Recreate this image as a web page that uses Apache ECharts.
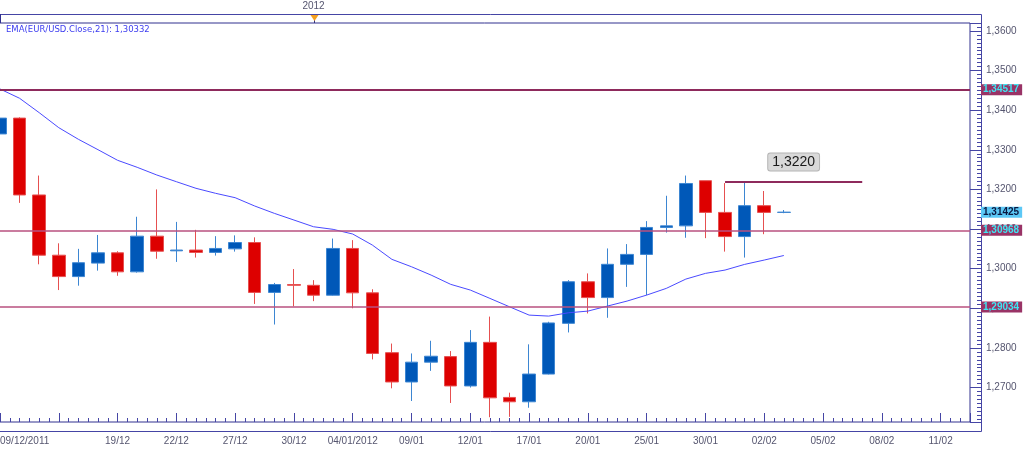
<!DOCTYPE html>
<html>
<head>
<meta charset="utf-8">
<title>EUR/USD</title>
<script src="https://cdn.jsdelivr.net/npm/echarts@6/dist/echarts.min.js"></script>
<style>
html, body { margin: 0; padding: 0; background: #fff; }
#chart { width: 1024px; height: 450px; }
</style>
</head>
<body>
<div id="chart"></div>
<script>
// trading days, then calendar days to the right edge
const dates = [
    '09/12/2011', '12/12/2011', '13/12/2011', '14/12/2011', '15/12/2011', '16/12/2011',
    '19/12/2011', '20/12/2011', '21/12/2011', '22/12/2011', '23/12/2011', '26/12/2011',
    '27/12/2011', '28/12/2011', '29/12/2011', '30/12/2011', '02/01/2012', '03/01/2012',
    '04/01/2012', '05/01/2012', '06/01/2012', '09/01/2012', '10/01/2012', '11/01/2012',
    '12/01/2012', '13/01/2012', '16/01/2012', '17/01/2012', '18/01/2012', '19/01/2012',
    '20/01/2012', '23/01/2012', '24/01/2012', '25/01/2012', '26/01/2012', '27/01/2012',
    '30/01/2012', '31/01/2012', '01/02/2012', '02/02/2012', '03/02/2012', '04/02/2012',
    '05/02/2012', '06/02/2012', '07/02/2012', '08/02/2012', '09/02/2012', '10/02/2012',
    '11/02/2012', '12/02/2012'
];

// open, close, low, high
const candles = [
    [1.3340, 1.3380, 1.3284, 1.3434],
    [1.3380, 1.3186, 1.3166, 1.3382],
    [1.3186, 1.3034, 1.3011, 1.3235],
    [1.3034, 1.2980, 1.2946, 1.3064],
    [1.2980, 1.3015, 1.2957, 1.3050],
    [1.3014, 1.3040, 1.2995, 1.3085],
    [1.3040, 1.2992, 1.2982, 1.3044],
    [1.2992, 1.3082, 1.2990, 1.3131],
    [1.3082, 1.3044, 1.3025, 1.3200],
    [1.3045, 1.3047, 1.3017, 1.3118],
    [1.3047, 1.3041, 1.3028, 1.3098],
    [1.3041, 1.3051, 1.3033, 1.3082],
    [1.3050, 1.3066, 1.3043, 1.3084],
    [1.3066, 1.2940, 1.2911, 1.3079],
    [1.2940, 1.2960, 1.2859, 1.2964],
    [1.2960, 1.2958, 1.2905, 1.2999],
    [1.2958, 1.2933, 1.2918, 1.2971],
    [1.2933, 1.3051, 1.2932, 1.3076],
    [1.3051, 1.2939, 1.2900, 1.3072],
    [1.2939, 1.2786, 1.2771, 1.2948],
    [1.2788, 1.2714, 1.2698, 1.2811],
    [1.2714, 1.2764, 1.2666, 1.2786],
    [1.2764, 1.2779, 1.2742, 1.2818],
    [1.2778, 1.2704, 1.2661, 1.2792],
    [1.2704, 1.2814, 1.2700, 1.2845],
    [1.2814, 1.2674, 1.2625, 1.2879],
    [1.2675, 1.2664, 1.2626, 1.2687],
    [1.2664, 1.2734, 1.2649, 1.2809],
    [1.2734, 1.2863, 1.2733, 1.2866],
    [1.2862, 1.2967, 1.2839, 1.2971],
    [1.2967, 1.2927, 1.2887, 1.2988],
    [1.2927, 1.3011, 1.2876, 1.3051],
    [1.3011, 1.3036, 1.2954, 1.3062],
    [1.3036, 1.3104, 1.2933, 1.3120],
    [1.3104, 1.3108, 1.3091, 1.3184],
    [1.3108, 1.3215, 1.3078, 1.3235],
    [1.3222, 1.3142, 1.3077, 1.3222],
    [1.3142, 1.3081, 1.3043, 1.3216],
    [1.3081, 1.3159, 1.3028, 1.3218],
    [1.3159, 1.3142, 1.3087, 1.3196],
    [1.3142, 1.31425, 1.3140, 1.3148]
];

// EMA(21) of close
const ema = [
    1.34535, 1.34300, 1.33937, 1.33558, 1.33265, 1.33003, 1.32735, 1.32558, 1.32364, 1.32195,
    1.32028, 1.31902, 1.31791, 1.31581, 1.31396, 1.31227, 1.31058, 1.30992, 1.30874, 1.30596,
    1.30235, 1.30048, 1.29838, 1.29604, 1.29460, 1.29250, 1.29038, 1.28828, 1.28803, 1.28886,
    1.28929, 1.29056, 1.29182, 1.29333, 1.29502, 1.29737, 1.29881, 1.29965, 1.30108, 1.30217,
    1.30332
];

const levels = [1.34517, 1.30968, 1.29034];
const lastPrice = 1.31425;
const resistance = 1.3220;
const resistanceFrom = '31/01/2012';
const resistanceTo = '07/02/2012';

const fmt = (v, d) => v.toFixed(d).replace('.', ',');
const year = d => d.slice(6);
const frameColor = '#4545a5';
const labelColor = '#55556f';

let chart = echarts.init(document.getElementById('chart'));

function tagLabel(bg, fg) {
    return {
        show: true,
        position: 'end',
        distance: 11,
        formatter: p => fmt(p.value, 5),
        backgroundColor: bg,
        color: fg,
        fontSize: 10,
        fontWeight: 'bold',
        lineHeight: 10,
        padding: [1, 3, 0, 2]
    };
}

let option = {
    animation: false,
    backgroundColor: '#ffffff',
    textStyle: { fontFamily: 'Liberation Sans' },
    title: {
        text: 'EMA(EUR/USD.Close,21): ' + fmt(ema[ema.length - 1], 5),
        left: 6,
        top: 25,
        padding: 0,
        textStyle: { fontSize: 8.5, fontFamily: 'DejaVu Sans', fontWeight: 'normal', color: '#3c3cf0' }
    },
    grid: [
        {
            left: -9.8, right: 54, top: 23, bottom: 28, outerBoundsMode: 'none',
            show: true, borderColor: '#30308f', borderWidth: 1, backgroundColor: '#fff'
        },
        { left: 0, right: 54, top: 23, bottom: 28, outerBoundsMode: 'none', show: false }
    ],
    xAxis: [
        {
            type: 'category', gridIndex: 0, data: dates, boundaryGap: true,
            position: 'bottom', offset: 9,
            axisLine: { show: false }, axisTick: { show: false }, splitLine: { show: false },
            axisLabel: {
                // every third day; the one after the first full date is crowded out
                interval: (i) => i % 3 === 0 && i !== 3,
                alignMinLabel: 'left',
                margin: 5, fontSize: 10, color: labelColor,
                formatter: function (value, index) {
                    const prev = dates[index - 3];
                    if (index === 0 || (prev && year(prev) !== year(value))) return value;
                    return value.slice(0, 5);
                }
            }
        },
        {
            // tick strip only
            type: 'value', gridIndex: 1, min: 0, max: 49.5, interval: 3,
            position: 'bottom', offset: 9,
            axisLine: { show: false },
            axisTick: { show: true, inside: true, length: 9, lineStyle: { color: frameColor } },
            minorTick: { show: true, splitNumber: 6, length: 4, lineStyle: { color: frameColor } },
            axisLabel: { show: false }, splitLine: { show: false }
        },
        {
            // year marker strip
            type: 'category', gridIndex: 0, data: dates, boundaryGap: true,
            position: 'top', offset: 9,
            axisLine: { show: false }, axisTick: { show: false }, splitLine: { show: false },
            axisLabel: {
                interval: (i) => i > 0 && year(dates[i]) !== year(dates[i - 1]),
                formatter: v => year(v),
                margin: 3, fontSize: 10, color: labelColor
            }
        }
    ],
    yAxis: [
        {
            type: 'value', gridIndex: 0, position: 'right', offset: 12,
            min: 1.2613, max: 1.3620, splitNumber: 10,
            axisLine: { show: false },
            axisTick: { show: true, inside: true, length: 12, lineStyle: { color: frameColor } },
            minorTick: { show: true, splitNumber: 10, length: 5, lineStyle: { color: frameColor } },
            splitLine: { show: false },
            axisLabel: {
                margin: 4, fontSize: 10, color: labelColor,
                formatter: function (v) {
                    if (Math.abs(v * 100 - Math.round(v * 100)) > 1e-6) return '';
                    return fmt(v, 4);
                }
            }
        },
        { type: 'value', gridIndex: 1, show: false }
    ],
    series: [
        {
            type: 'candlestick',
            xAxisIndex: 0,
            yAxisIndex: 0,
            data: candles,
            barWidth: 13,
            itemStyle: {
                color: '#0058b8',
                color0: '#dd0000',
                borderColor: '#3d86d2',
                borderColor0: '#e65050',
                borderWidth: 1
            },
            markLine: {
                symbol: ['none', 'none'],
                silent: true,
                animation: false,
                precision: 5,
                data: [
                    ...levels.map((v, k) => ({
                        yAxis: v,
                        lineStyle: { color: k === 0 ? '#8e2a5c' : '#b8507f', width: k === 0 ? 2 : 1.5, type: 'solid' },
                        label: tagLabel('#993366', '#3fe6f2')
                    })),
                    {
                        // price tag only, no line
                        yAxis: lastPrice,
                        lineStyle: { color: 'rgba(0,0,0,0)', width: 1, type: 'solid' },
                        label: tagLabel('#5cc8f6', '#0a1840')
                    },
                    [
                        {
                            coord: [resistanceFrom, resistance],
                            lineStyle: { color: '#8e2a5c', width: 2, type: 'solid' },
                            label: {
                                show: true,
                                position: 'insideMiddleTop',
                                distance: 11,
                                formatter: fmt(resistance, 4),
                                fontSize: 14,
                                color: '#1a1a1a',
                                backgroundColor: '#d9d9d9',
                                borderColor: '#b4b4b4',
                                borderWidth: 1,
                                borderRadius: 2,
                                padding: [2, 4, 1, 4]
                            }
                        },
                        { coord: [resistanceTo, resistance] }
                    ]
                ]
            }
        },
        {
            type: 'line',
            name: 'EMA',
            xAxisIndex: 0,
            yAxisIndex: 0,
            data: ema,
            symbol: 'none',
            z: 3,
            lineStyle: { color: '#4a4aff', width: 1 }
        }
    ]
};

chart.setOption(option);

// frame and year marker, placed through the axis scale
const yearIdx = dates.findIndex((d, i) => i > 0 && year(d) !== year(dates[i - 1]));
const px = Math.round(chart.convertToPixel({ xAxisIndex: 0 }, dates[yearIdx])) + 0.5;
chart.setOption({
    graphic: [
        {
            type: 'polyline', silent: true,
            shape: { points: [[0, 14.5], [981.5, 14.5], [981.5, 431.5], [0, 431.5]] },
            style: { stroke: frameColor, fill: 'none', lineWidth: 1 }
        },
        {
            type: 'line', silent: true,
            shape: { x1: 0.5, y1: 14, x2: 0.5, y2: 23 },
            style: { stroke: '#30308f', lineWidth: 1 }
        },
        {
            type: 'line', silent: true,
            shape: { x1: px, y1: 18, x2: px, y2: 23 },
            style: { stroke: '#303080', lineWidth: 1 }
        },
        {
            type: 'polygon', silent: true,
            shape: { points: [[px - 4, 15], [px + 4, 15], [px, 21]] },
            style: { fill: '#f5a01e' }
        }
    ]
});
</script>
</body>
</html>
